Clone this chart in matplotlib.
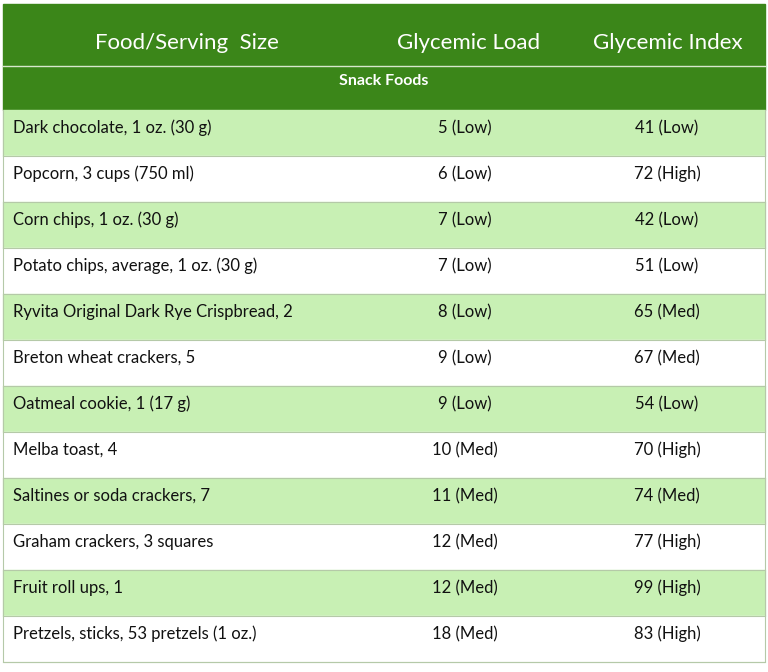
import matplotlib.pyplot as plt
from matplotlib.patches import Rectangle

plt.rcParams['font.family'] = ['Lato', 'DejaVu Sans']

headers = ["Food/Serving  Size", "Glycemic Load", "Glycemic Index"]
section = "Snack Foods"
foods = ["Dark chocolate, 1 oz. (30 g)", "Popcorn, 3 cups (750 ml)", "Corn chips, 1 oz. (30 g)",
         "Potato chips, average, 1 oz. (30 g)", "Ryvita Original Dark Rye Crispbread, 2",
         "Breton wheat crackers, 5", "Oatmeal cookie, 1 (17 g)", "Melba toast, 4",
         "Saltines or soda crackers, 7", "Graham crackers, 3 squares", "Fruit roll ups, 1",
         "Pretzels, sticks, 53 pretzels (1 oz.)"]
gl = ["5 (Low)", "6 (Low)", "7 (Low)", "7 (Low)", "8 (Low)", "9 (Low)", "9 (Low)",
      "10 (Med)", "11 (Med)", "12 (Med)", "12 (Med)", "18 (Med)"]
gi = ["41 (Low)", "72 (High)", "42 (Low)", "51 (Low)", "65 (Med)", "67 (Med)", "54 (Low)",
      "70 (High)", "74 (Med)", "77 (High)", "99 (High)", "83 (High)"]

dark = "#3b8619"
light = "#c8f0b4"

fig = plt.figure(figsize=(7.68, 6.72), dpi=100)
ax = fig.add_axes([0, 0, 1, 1])
ax.set_xlim(0, 768)
ax.set_ylim(672, 0)
ax.axis('off')

left, right = 3, 765
ax.add_patch(Rectangle((left, 4), right - left, 106, color=dark))
ax.plot([left, right], [66, 66], color="#d8e8cc", lw=1)
for x, h in zip([187, 469, 668], headers):
    ax.text(x, 43, h, color="white", fontsize=16, ha="center", va="center")
ax.text(384, 81, section, color="white", fontsize=11.5, fontweight="bold", ha="center", va="center")

row_h = 46
for i, (f, a, b) in enumerate(zip(foods, gl, gi)):
    y0 = 110 + i * row_h
    ax.add_patch(Rectangle((left, y0), right - left, row_h,
                           color=light if i % 2 == 0 else "white"))
    ax.plot([left, right], [y0 + row_h, y0 + row_h], color="#b5c9a8", lw=0.8)
    ty = y0 + 18
    ax.text(13, ty, f, fontsize=12, ha="left", va="center", color="#111111")
    ax.text(465, ty, a, fontsize=12, ha="center", va="center", color="#111111")
    ax.text(667, ty, b, fontsize=12, ha="center", va="center", color="#111111")

ax.plot([left, left, right, right], [110, 662, 662, 110], color="#b5c9a8", lw=0.8)
fig.savefig("out.png", dpi=100)
